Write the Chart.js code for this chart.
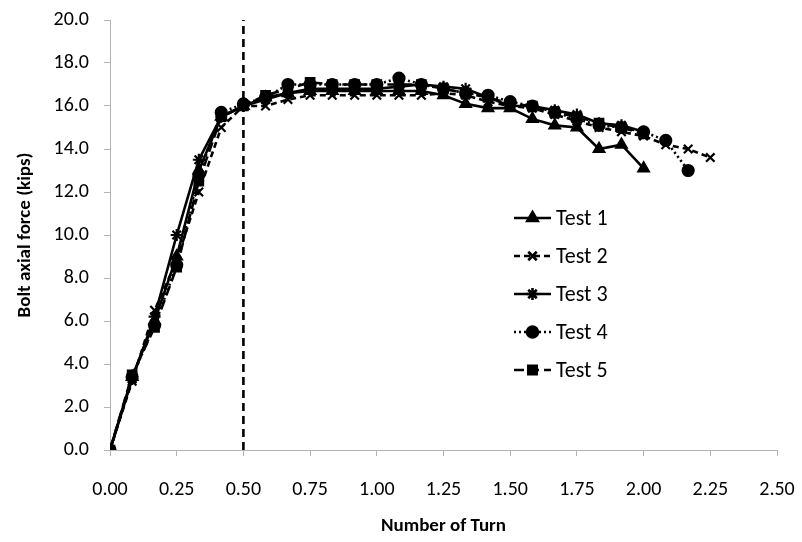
<!DOCTYPE html>
<html>
<head>
<meta charset="utf-8">
<script src="https://cdn.jsdelivr.net/npm/chart.js@4/dist/chart.umd.min.js"></script>
<style>
html,body{margin:0;padding:0;background:#fff;}
canvas{display:block;}
</style>
</head>
<body>
<canvas id="c" width="802" height="542"></canvas>
<script>
// Number of turns (1/12 turn increments)
const turns = [0, 0.083, 0.167, 0.25, 0.333, 0.417, 0.5, 0.583, 0.667, 0.75, 0.833, 0.917, 1.0, 1.083, 1.167, 1.25, 1.333, 1.417, 1.5, 1.583, 1.667, 1.75, 1.833, 1.917, 2.0, 2.083, 2.167, 2.25];
const seriesNames = ["Test 1", "Test 2", "Test 3", "Test 4", "Test 5"];
const test1 = [0, 3.4, 6.0, 9.0, 13.0, 15.5, 16.0, 16.4, 16.6, 16.7, 16.7, 16.7, 16.7, 16.7, 16.7, 16.5, 16.1, 15.9, 15.9, 15.4, 15.1, 15.0, 14.0, 14.2, 13.1];
const test2 = [0, 3.2, 6.5, 8.8, 12.0, 15.0, 16.0, 16.0, 16.3, 16.5, 16.5, 16.5, 16.5, 16.5, 16.5, 16.6, 16.5, 16.2, 16.0, 15.9, 15.6, 15.3, 15.0, 14.8, 14.6, 14.2, 14.0, 13.6];
const test3 = [0, 3.3, 6.2, 10.0, 13.5, 15.5, 16.0, 16.3, 16.6, 16.8, 16.8, 16.8, 16.8, 16.9, 17.0, 16.9, 16.8, 16.4, 16.0, 16.0, 15.8, 15.6, 15.2, 15.1, 14.8];
const test4 = [0, 3.4, 5.8, 8.6, 12.8, 15.7, 16.1, 16.4, 17.0, 17.0, 17.0, 17.0, 17.0, 17.3, 17.0, 16.8, 16.6, 16.5, 16.2, 16.0, 15.7, 15.4, 15.1, 15.0, 14.8, 14.4, 13.0];
const test5 = [0, 3.5, 5.7, 8.5, 12.5, 15.5, 16.0, 16.5, 16.8, 17.1, 17.0, 17.0, 17.0, 17.0, 17.0, 16.8, 16.6, 16.4, 16.1, 16.0, 15.7, 15.5, 15.2, 15.0, 14.7];
// Vertical reference line at 0.5 turn
const refLineX = [0.5, 0.5];
const refLineY = [0, 20];
const xTicks = [0, 0.25, 0.5, 0.75, 1.0, 1.25, 1.5, 1.75, 2.0, 2.25, 2.5];
const yTicks = [0, 2, 4, 6, 8, 10, 12, 14, 16, 18, 20];

const FONT = "Carlito, Lato, 'Open Sans', sans-serif";
const toXY = (vals) => vals.map((v, i) => ({x: turns[i], y: v}));

const styles = [
  {pointStyle: 'triangle', dash: [], radius: 6},
  {pointStyle: 'crossRot', dash: [6, 4], radius: 6},
  {pointStyle: 'star', dash: [], radius: 6},
  {pointStyle: 'circle', dash: [2, 3], radius: 5.5},
  {pointStyle: 'rect', dash: [10, 5], radius: 6}
];
const allSeries = [test1, test2, test3, test4, test5];

const datasets = allSeries.map((s, i) => ({
  label: seriesNames[i],
  data: toXY(s),
  borderColor: '#000',
  backgroundColor: '#000',
  borderWidth: 2.6,
  borderDash: styles[i].dash,
  pointStyle: styles[i].pointStyle,
  pointRadius: styles[i].radius,
  pointBorderWidth: 2.2,
  pointBackgroundColor: '#000',
  pointBorderColor: '#000',
  tension: 0,
  fill: false
}));
datasets.push({
  label: 'ref',
  data: refLineX.map((x, i) => ({x: x, y: refLineY[i]})),
  borderColor: '#000',
  borderWidth: 2.6,
  borderDash: [8, 5],
  pointRadius: 0,
  fill: false,
  isRef: true
});

const legendPlugin = {
  id: 'insideLegend',
  afterDraw(chart) {
    const ctx = chart.ctx;
    const x0 = 514, x1 = 551, tx = 556;
    const ys = [218, 256, 294, 332, 370];
    ctx.save();
    chart.data.datasets.forEach((ds, i) => {
      if (ds.isRef) return;
      const y = ys[i];
      ctx.strokeStyle = '#000';
      ctx.lineWidth = 2.6;
      ctx.setLineDash(ds.borderDash || []);
      ctx.beginPath();
      ctx.moveTo(x0, y);
      ctx.lineTo(x1, y);
      ctx.stroke();
      ctx.setLineDash([]);
      Chart.helpers.drawPoint(ctx, {
        pointStyle: ds.pointStyle,
        radius: ds.pointRadius,
        borderWidth: ds.pointBorderWidth,
        rotation: 0
      }, (x0 + x1) / 2, y);
      ctx.fillStyle = '#000';
      ctx.font = "22px " + FONT;
      ctx.textBaseline = 'middle';
      ctx.textAlign = 'left';
      ctx.fillText(ds.label, tx, y + 1);
    });
    ctx.restore();
  }
};

const bgPlugin = {
  id: 'bg',
  beforeDraw(chart) {
    const ctx = chart.ctx;
    ctx.save();
    ctx.fillStyle = '#fff';
    ctx.fillRect(0, 0, chart.width, chart.height);
    ctx.restore();
  }
};

new Chart(document.getElementById('c'), {
  type: 'line',
  data: {datasets: datasets},
  options: {
    responsive: false,
    animation: false,
    devicePixelRatio: 1,
    layout: {autoPadding: false, padding: {top: 20, right: 25, left: 10, bottom: 0}},
    plugins: {
      legend: {display: false},
      tooltip: {enabled: false}
    },
    scales: {
      x: {
        type: 'linear',
        min: 0, max: 2.5,
        afterBuildTicks: (s) => { s.ticks = xTicks.map(v => ({value: v})); },
        afterFit: (s) => { s.height = 92; s.paddingLeft = 0; s.paddingRight = 0; },
        ticks: {
          color: '#000',
          padding: 22,
          font: {family: FONT, size: 20},
          callback: (v) => Number(v).toFixed(2),
          maxRotation: 0
        },
        grid: {display: true, drawOnChartArea: false, drawTicks: true, tickLength: 6, color: '#b3b3b3'},
        border: {display: true, color: '#b3b3b3', width: 1},
        title: {display: true, text: 'Number of Turn', color: '#000', font: {family: FONT, size: 19, weight: 'bold'}, padding: {top: 2}}
      },
      y: {
        min: 0, max: 20,
        afterBuildTicks: (s) => { s.ticks = yTicks.map(v => ({value: v})); },
        afterFit: (s) => { s.width = 100; s.paddingTop = 0; s.paddingBottom = 0; },
        ticks: {
          color: '#000',
          padding: 15,
          font: {family: FONT, size: 20},
          callback: (v) => Number(v).toFixed(1)
        },
        grid: {display: true, drawOnChartArea: false, drawTicks: true, tickLength: 6, color: '#b3b3b3'},
        border: {display: true, color: '#b3b3b3', width: 1},
        title: {display: true, text: 'Bolt axial force (kips)', color: '#000', font: {family: FONT, size: 19, weight: 'bold'}, padding: {bottom: 0}}
      }
    }
  },
  plugins: [bgPlugin, legendPlugin]
});
</script>
</body>
</html>
